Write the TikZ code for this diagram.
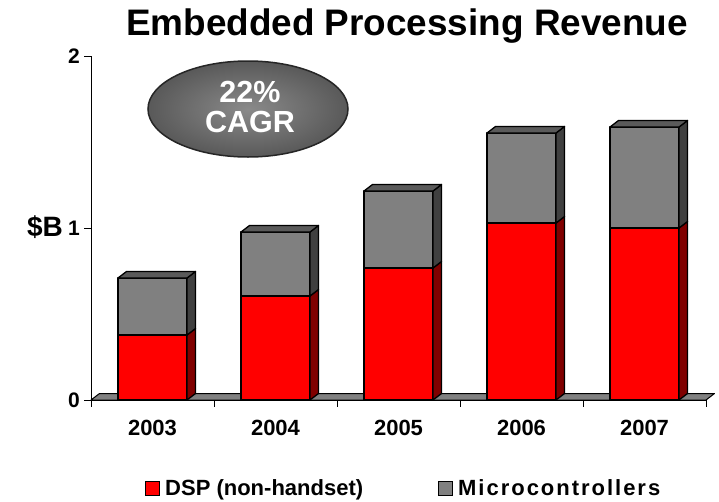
\documentclass[tikz,border=0pt]{standalone}
\usepackage{fontspec}
\setmainfont{Liberation Sans}
\usetikzlibrary{shapes.geometric}
\definecolor{barred}{HTML}{FF0000}
\definecolor{redside}{HTML}{800000}
\definecolor{bargray}{HTML}{808080}
\definecolor{grayside}{HTML}{404040}
\definecolor{graytop}{HTML}{5A5A5A}
\definecolor{ellin}{HTML}{8A8A8A}
\definecolor{ellout}{HTML}{595959}
\begin{document}
\begin{tikzpicture}[x=1pt,y=-1pt,
  face/.style={draw=black,line width=1.3pt,line join=round},
  axisline/.style={draw=black,line width=1pt},
  ticklabel/.style={font=\bfseries\fontsize{21}{24}\selectfont,inner sep=0pt},
  yearlabel/.style={font=\bfseries\fontsize{22}{26}\selectfont,anchor=base,inner sep=0pt},
  legtext/.style={font=\bfseries\fontsize{22}{26}\selectfont,anchor=base west,inner sep=0pt},
  legbox/.style={draw=black,line width=1pt}]
\useasboundingbox (0,0) rectangle (719,501);
% title
\node[font=\bfseries\fontsize{36.9}{40}\selectfont,anchor=base,inner sep=0pt] (title) at (407,35) {Embedded Processing Revenue};
% floor
\filldraw[fill=bargray,draw=black,line width=1pt,line join=round] (91,400) -- (99.5,393.5) -- (714.5,393.5) -- (706,400) -- cycle;
% bars
\foreach \i/\rb/\tp in {0/335/278, 1/296/232, 2/268/191, 3/223/133, 4/228/127}{
  \pgfmathsetmacro\cx{91+123*(\i+0.5)}
  \pgfmathsetmacro\lf{\cx-34.5}
  \pgfmathsetmacro\rt{\cx+34.5}
  \pgfmathsetmacro\rd{\rt+8.5}
  \pgfmathsetmacro\lb{\lf+8.5}
  \pgfmathsetmacro\rbb{\rb-6.5}
  \pgfmathsetmacro\tpb{\tp-6.5}
  \filldraw[face,fill=barred] (\lf,400) rectangle (\rt,\rb);
  \filldraw[face,fill=redside] (\rt,400) -- (\rd,393.5) -- (\rd,\rbb) -- (\rt,\rb) -- cycle;
  \filldraw[face,fill=bargray] (\lf,\rb) rectangle (\rt,\tp);
  \filldraw[face,fill=grayside] (\rt,\rb) -- (\rd,\rbb) -- (\rd,\tpb) -- (\rt,\tp) -- cycle;
  \filldraw[face,fill=graytop] (\lf,\tp) -- (\lb,\tpb) -- (\rd,\tpb) -- (\rt,\tp) -- cycle;
}
% axes
\draw[axisline] (91,56) -- (91,407);
\draw[axisline] (91,400) -- (706,400);
\foreach \yy in {56,228,400}{\draw[axisline] (84,\yy) -- (91,\yy);}
\foreach \k in {1,...,5}{\draw[axisline] ({91+123*\k},400) -- ({91+123*\k},407);}
% tick labels
\node[ticklabel,anchor=east] (t2) at (80,56) {2};
\node[ticklabel,anchor=east] (t1) at (80,228) {1};
\node[ticklabel,anchor=east] (t0) at (80,400) {0};
\node[font=\bfseries\fontsize{28}{32}\selectfont,anchor=base east,inner sep=0pt] (unit) at (63,236) {\$B};
% year labels
\node[yearlabel] (y3) at (152.5,435) {2003};
\node[yearlabel] (y4) at (275.5,435) {2004};
\node[yearlabel] (y5) at (398.5,435) {2005};
\node[yearlabel] (y6) at (521.5,435) {2006};
\node[yearlabel] (y7) at (644.5,435) {2007};
% CAGR ellipse
\node[ellipse,minimum width=200pt,minimum height=96pt,draw=black!85,line width=1.5pt,
      inner color=ellin,outer color=ellout] (cagr) at (248,109) {};
\node[font=\bfseries\fontsize{30.5}{32}\selectfont,text=white,anchor=base,inner sep=0pt] (pct) at (250,102) {22\%};
\node[font=\bfseries\fontsize{30.5}{32}\selectfont,text=white,anchor=base,inner sep=0pt] (cagrtxt) at (250,132) {CAGR};
% legend
\filldraw[legbox,fill=barred] (145,481) rectangle (159,495);
\node[legtext] (l1) at (165,495) {DSP (non-handset)};
\filldraw[legbox,fill=bargray] (438,481) rectangle (452,495);
\node[legtext] (l2) at (458,495) {\addfontfeature{LetterSpace=9}Microcontrollers};
\end{tikzpicture}
\end{document}
